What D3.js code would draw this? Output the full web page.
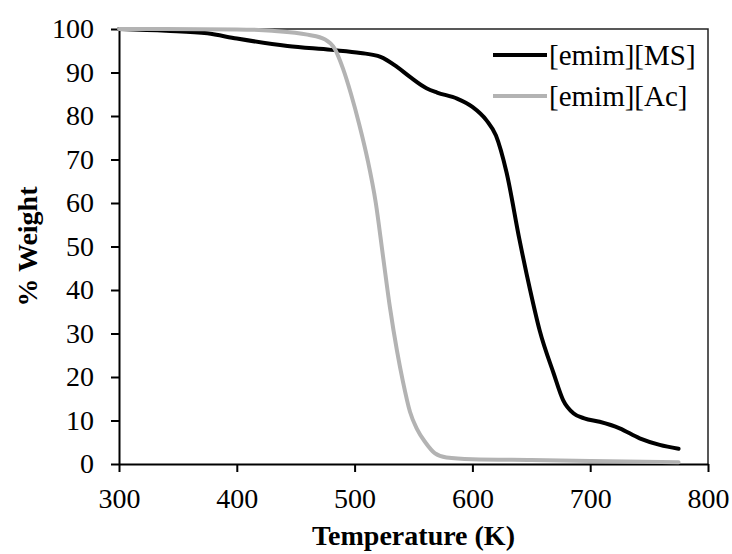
<!DOCTYPE html>
<html>
<head>
<meta charset="utf-8">
<script src="https://cdn.jsdelivr.net/npm/d3@7"></script>
<style>
    body { margin: 0; background: #fff; }
    text { font-family: "Liberation Serif", "Times New Roman", serif; }
</style>
</head>
<body>
<div id="chart"></div>
<script>
// Temperature (K) and % weight
const msTemp = [300, 340, 375, 400, 443, 480, 505, 522, 536, 547, 561, 570, 587, 600, 612, 620, 629, 640, 649, 657, 669, 677, 686, 695, 708, 725, 742, 759, 775];
const msWeight = [100, 99.6, 99, 97.8, 96.1, 95.2, 94.5, 93.6, 91.3, 89, 86.4, 85.4, 84, 82.1, 79, 75.5, 67, 51.5, 40, 30.8, 20.8, 14.7, 11.6, 10.5, 9.7, 8.2, 5.9, 4.4, 3.5];

const acTemp = [300, 400, 430, 460, 475, 483, 490, 497, 504, 511, 518, 524, 530, 536, 541, 547, 553, 560, 568, 578, 600, 650, 700, 775];
const acWeight = [100, 99.9, 99.6, 98.7, 97.6, 95.5, 91, 85, 78, 70, 60, 48, 36, 26, 19, 12, 8, 5, 2.5, 1.5, 1.1, 0.9, 0.7, 0.4];

const seriesNames = ["[emim][MS]", "[emim][Ac]"];
const seriesColors = ["#000000", "#b3b3b3"];

const xTicks = [300, 400, 500, 600, 700, 800];
const yTicks = [0, 10, 20, 30, 40, 50, 60, 70, 80, 90, 100];

// Dimensions
const margin = { top: 29, right: 24, bottom: 90, left: 119 },
    width = 732 - margin.left - margin.right,
    height = 554 - margin.top - margin.bottom;

const svg = d3.select("#chart")
    .append("svg")
    .attr("width", width + margin.left + margin.right)
    .attr("height", height + margin.top + margin.bottom)
    .append("g")
    .attr("transform", `translate(${margin.left},${margin.top})`);

// Scales
const x = d3.scaleLinear().domain([300, 800]).range([0, width]);
const y = d3.scaleLinear().domain([0, 100]).range([height, 0]);

// Frame (top and right)
svg.append("path")
    .attr("d", `M0,0H${width}V${height}`)
    .attr("fill", "none")
    .attr("stroke", "#222")
    .attr("stroke-width", 1.5);

// X Axis
const xAxis = svg.append("g")
    .attr("transform", `translate(0,${height})`)
    .call(d3.axisBottom(x).tickValues(xTicks).tickSize(8).tickPadding(16).tickSizeOuter(0));

// Y Axis
const yAxis = svg.append("g")
    .call(d3.axisLeft(y).tickValues(yTicks).tickSize(8).tickPadding(17).tickSizeOuter(0));

[xAxis, yAxis].forEach(a => {
    a.select(".domain").attr("stroke", "#000").attr("stroke-width", 2);
    a.selectAll(".tick line").attr("stroke", "#000").attr("stroke-width", 2);
    a.selectAll(".tick text")
        .attr("fill", "#000")
        .style("font-family", '"Liberation Serif", "Times New Roman", serif')
        .style("font-size", "28px");
});

// Axis titles
svg.append("text")
    .attr("x", width / 2)
    .attr("y", height + 81)
    .attr("text-anchor", "middle")
    .style("font-size", "28px")
    .style("font-weight", "bold")
    .text("Temperature (K)");

svg.append("text")
    .attr("transform", "rotate(-90)")
    .attr("x", -height / 2)
    .attr("y", 37 - margin.left)
    .attr("text-anchor", "middle")
    .style("font-size", "28px")
    .style("font-weight", "bold")
    .text("% Weight");

// Lines
const line = d3.line()
    .x(d => x(d[0]))
    .y(d => y(d[1]))
    .curve(d3.curveMonotoneX);

const series = [
    d3.zip(msTemp, msWeight),
    d3.zip(acTemp, acWeight)
];

svg.selectAll(".series")
    .data(series)
    .enter().append("path")
    .attr("class", "series")
    .attr("d", line)
    .attr("fill", "none")
    .attr("stroke", (d, i) => seriesColors[i])
    .attr("stroke-width", 4)
    .attr("stroke-linejoin", "round")
    .attr("stroke-linecap", "round");

// Legend
const legend = svg.append("g")
    .attr("transform", `translate(${493 - margin.left},${55 - margin.top})`);

seriesNames.forEach((name, i) => {
    const row = legend.append("g").attr("transform", `translate(0,${i * 41})`);
    row.append("line")
        .attr("x1", 0).attr("x2", 54)
        .attr("stroke", seriesColors[i])
        .attr("stroke-width", 4);
    row.append("text")
        .attr("x", 56)
        .attr("dy", "0.33em")
        .style("font-size", "29px")
        .text(name);
});
</script>
</body>
</html>
